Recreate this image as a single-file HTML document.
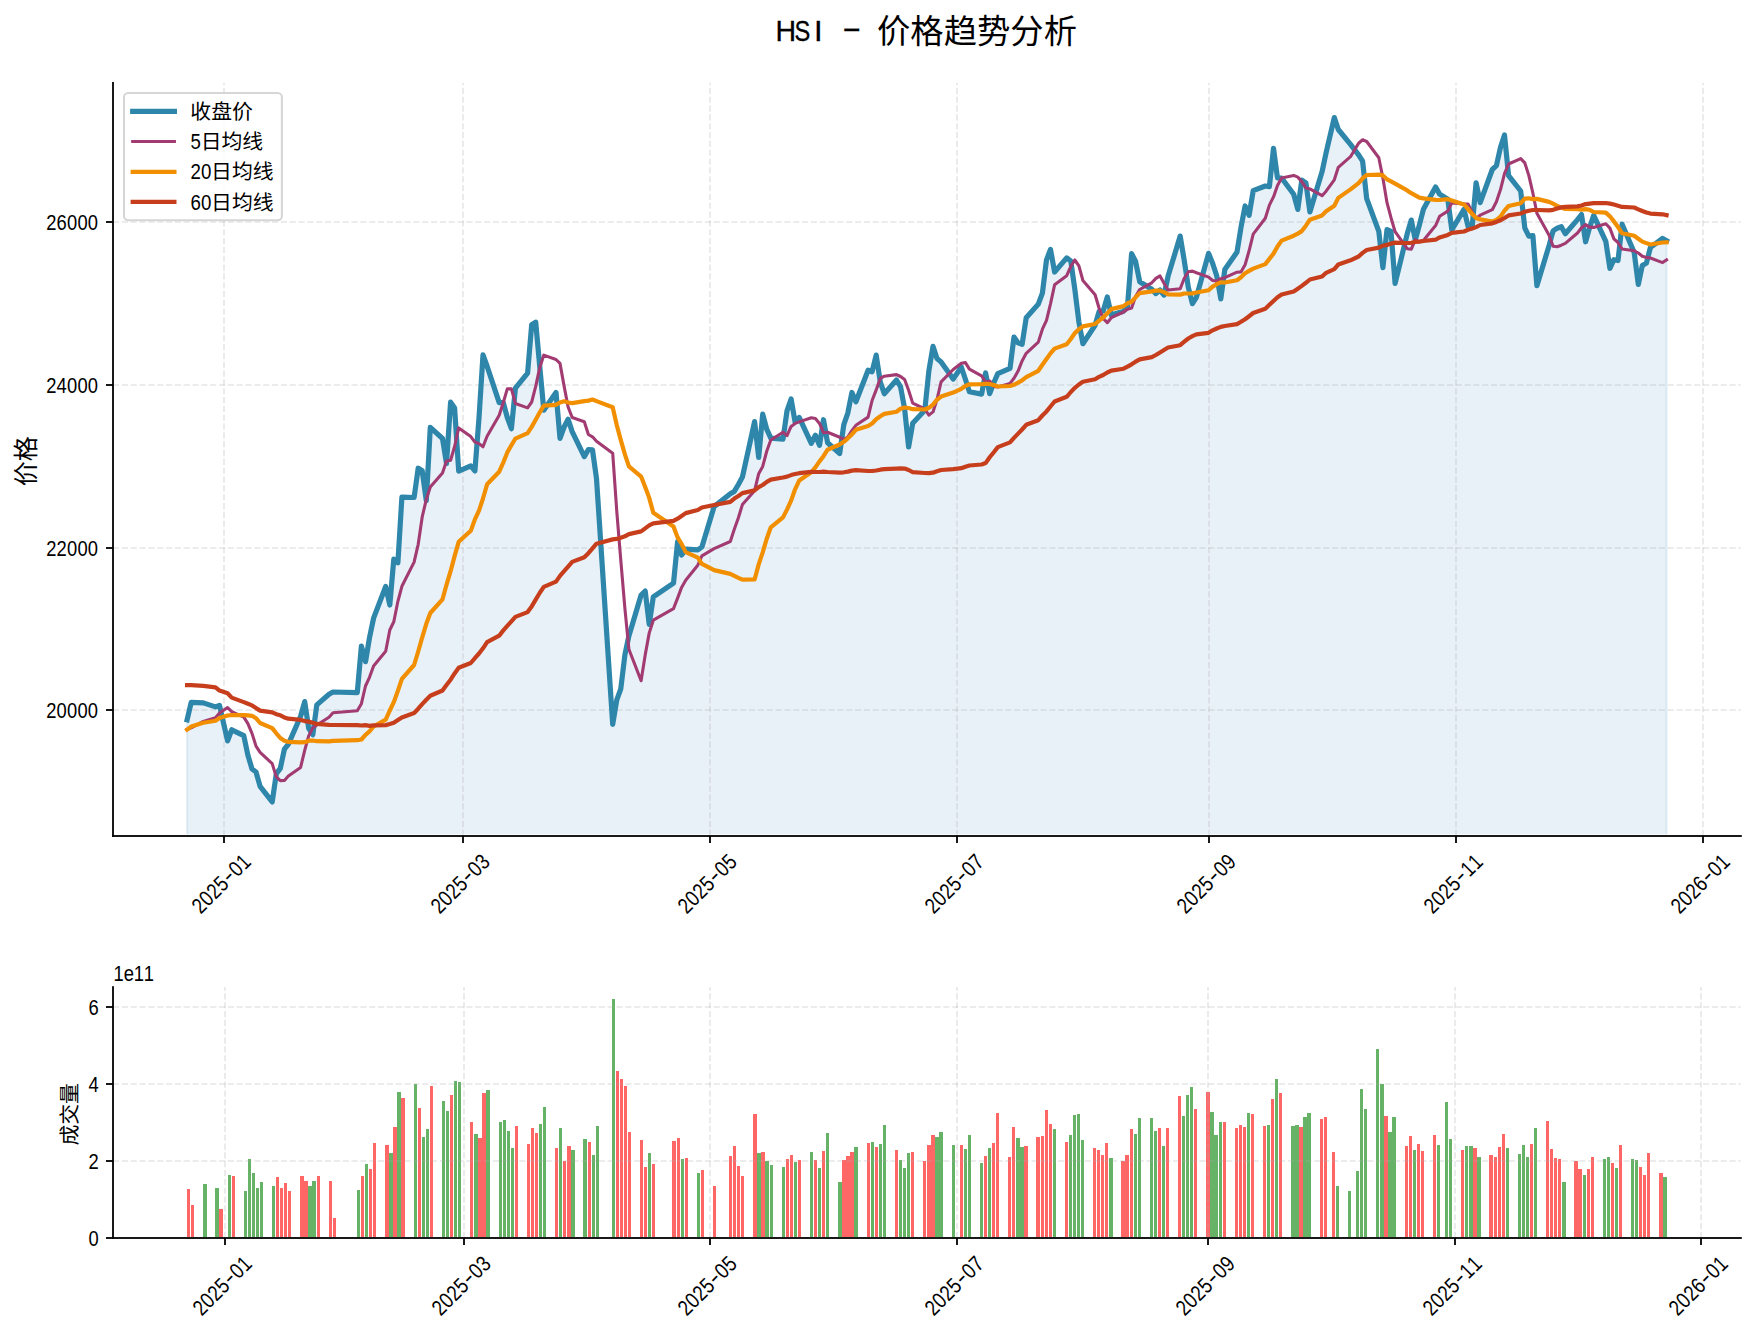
<!DOCTYPE html><html><head><meta charset="utf-8"><title>HSI - 价格趋势分析</title>
<style>html,body{margin:0;padding:0;background:#fff}svg{display:block}text{font-family:"Liberation Sans","Noto Sans CJK SC",sans-serif;fill:#000}.cj{font-family:"Noto Sans CJK SC","Liberation Sans",sans-serif}</style></head><body>
<svg width="1755" height="1332" viewBox="0 0 1755 1332">
<rect width="1755" height="1332" fill="#fff"/>
<clipPath id="c1"><rect x="113" y="82.8" width="1628" height="751.4"/></clipPath>
<polygon clip-path="url(#c1)" points="187.1,850 187.1,719.8 191.2,702.3 203.3,702.9 215.5,706.9 219.5,705.4 227.6,740.9 231.7,729.8 243.8,735.7 247.9,755.2 252,768.9 256,772 260.1,786.4 272.2,801.9 276.3,773.8 280.3,768.4 284.4,749.1 288.4,744.1 300.6,716.3 304.7,701.6 308.7,728.3 312.8,734.7 316.8,704.9 329,694.2 333,692 357.3,692.6 361.4,646.1 365.5,661.7 369.5,637.8 373.6,618.1 385.7,586.5 389.8,605 393.8,559.2 397.9,562.7 401.9,497.2 414.1,497.5 418.2,468.2 422.2,470.8 426.3,500.7 430.3,427.4 442.5,438.5 446.5,463.5 450.6,402.2 454.6,407.9 458.7,471.1 470.8,465.8 474.9,471 479,418 483,354.9 487.1,366.2 499.2,402.6 503.3,402.7 507.3,417.5 511.4,428.7 515.4,388.2 527.6,373.1 531.7,324.7 535.7,322.2 539.8,367.1 543.8,410.2 556,392.6 560,438.3 564.1,427 568.1,419.2 572.2,431.6 584.3,456.6 588.4,449.5 592.5,449.8 596.5,478.5 612.7,724.3 616.8,699.9 620.8,688.8 624.9,654.8 628.9,635.9 641.1,595 645.2,591 649.2,624.3 653.3,596.8 673.5,583.2 677.6,541.7 681.6,555 685.7,549.2 697.8,549.9 701.9,547 714.1,506.6 730.3,493.7 734.3,491.4 738.4,484.5 742.4,477.1 754.6,421.6 758.7,457.5 762.7,414.2 766.8,429.4 770.8,438.2 783,439.2 787,410.9 791.1,399 795.1,422 799.2,417.4 811.3,443.3 815.4,435.2 819.5,445.3 823.5,419.7 827.6,442.7 839.7,453.5 843.8,424.6 847.8,413.1 851.9,392.5 855.9,401.8 868.1,370.2 872.1,371.7 876.2,355.1 880.3,382.1 884.3,393.7 896.5,380 900.5,386.6 904.6,408.5 908.6,447 912.7,423.2 924.8,410.3 928.9,370.6 933,346.4 937,358.5 941.1,361.9 953.2,379.1 961.3,367 965.4,379.3 969.4,391.8 981.6,394.1 985.6,372.9 989.7,393.7 993.8,382.7 997.8,373.6 1010,368.4 1014,337 1018.1,342.9 1022.1,344.4 1026.2,317.8 1038.3,304.1 1042.4,293.1 1046.5,259.9 1050.5,249.4 1054.6,272 1066.7,257.9 1070.8,261 1074.8,289.2 1078.9,322.1 1082.9,343.7 1095.1,325.3 1099.1,311.6 1103.2,310.9 1107.3,297 1111.3,315.1 1123.5,311.2 1127.5,306.1 1131.6,253.7 1135.6,261.4 1139.7,281.7 1151.8,289.3 1155.9,293.6 1160,290.1 1164,295.1 1168.1,276.1 1180.2,236.1 1184.3,260.9 1188.3,287.2 1192.4,303.7 1196.4,297.3 1208.6,253.4 1212.6,263.2 1216.7,275.7 1220.8,298.9 1224.8,269.6 1237,252.1 1241,227.3 1245.1,206 1249.1,215.3 1253.2,190.7 1265.3,186 1269.4,186.6 1273.5,148.4 1277.5,178 1281.6,178 1293.7,194.3 1297.8,209.4 1301.8,180.1 1305.9,182.9 1309.9,211.9 1322.1,171.6 1326.1,152.7 1334.3,117.6 1338.3,129.5 1350.5,144.4 1358.6,154.8 1362.6,161.1 1366.7,198.7 1378.8,231.3 1382.9,267.7 1387,229.6 1391,231.4 1395.1,283.5 1407.2,233.8 1411.3,220.1 1415.3,240.1 1419.4,224.9 1423.4,209.3 1435.6,187 1439.6,194.1 1447.8,199.3 1451.8,229.9 1464,209.4 1468,226.2 1472.1,227.6 1476.1,182.8 1480.2,202.6 1492.3,169.5 1496.4,165.7 1500.5,147.3 1504.5,135 1508.6,175.7 1520.7,191 1524.8,228 1528.8,236.1 1532.9,235.7 1536.9,285.7 1549.1,245.4 1553.1,230.9 1557.2,228.2 1561.3,226.7 1565.3,233.8 1577.5,219.6 1581.5,214.6 1585.6,241.8 1589.6,227.5 1593.7,215.4 1605.8,241.4 1609.9,268.3 1613.9,259.7 1618,260.5 1622.1,224.2 1634.2,252.5 1638.3,284.5 1642.3,265.5 1646.4,263.1 1650.4,247.5 1662.6,238.4 1666.6,240.7 1666.6,850" fill="#1f77b4" fill-opacity="0.1" stroke="#1f77b4" stroke-opacity="0.1" stroke-width="2.08" stroke-linejoin="round"/>
<line x1="224" x2="224" y1="836" y2="82.8" stroke="#b0b0b0" stroke-opacity="0.3" stroke-width="1.67" stroke-dasharray="6.1667 2.6667"/>
<line x1="463" x2="463" y1="836" y2="82.8" stroke="#b0b0b0" stroke-opacity="0.3" stroke-width="1.67" stroke-dasharray="6.1667 2.6667"/>
<line x1="710" x2="710" y1="836" y2="82.8" stroke="#b0b0b0" stroke-opacity="0.3" stroke-width="1.67" stroke-dasharray="6.1667 2.6667"/>
<line x1="957" x2="957" y1="836" y2="82.8" stroke="#b0b0b0" stroke-opacity="0.3" stroke-width="1.67" stroke-dasharray="6.1667 2.6667"/>
<line x1="1209" x2="1209" y1="836" y2="82.8" stroke="#b0b0b0" stroke-opacity="0.3" stroke-width="1.67" stroke-dasharray="6.1667 2.6667"/>
<line x1="1456" x2="1456" y1="836" y2="82.8" stroke="#b0b0b0" stroke-opacity="0.3" stroke-width="1.67" stroke-dasharray="6.1667 2.6667"/>
<line x1="1703" x2="1703" y1="836" y2="82.8" stroke="#b0b0b0" stroke-opacity="0.3" stroke-width="1.67" stroke-dasharray="6.1667 2.6667"/>
<line x1="113" x2="1740.8" y1="710" y2="710" stroke="#b0b0b0" stroke-opacity="0.3" stroke-width="1.67" stroke-dasharray="6.1667 2.6667"/>
<line x1="113" x2="1740.8" y1="548" y2="548" stroke="#b0b0b0" stroke-opacity="0.3" stroke-width="1.67" stroke-dasharray="6.1667 2.6667"/>
<line x1="113" x2="1740.8" y1="385" y2="385" stroke="#b0b0b0" stroke-opacity="0.3" stroke-width="1.67" stroke-dasharray="6.1667 2.6667"/>
<line x1="113" x2="1740.8" y1="222" y2="222" stroke="#b0b0b0" stroke-opacity="0.3" stroke-width="1.67" stroke-dasharray="6.1667 2.6667"/>
<polyline points="187.1,719.8 191.2,702.3 203.3,702.9 215.5,706.9 219.5,705.4 227.6,740.9 231.7,729.8 243.8,735.7 247.9,755.2 252,768.9 256,772 260.1,786.4 272.2,801.9 276.3,773.8 280.3,768.4 284.4,749.1 288.4,744.1 300.6,716.3 304.7,701.6 308.7,728.3 312.8,734.7 316.8,704.9 329,694.2 333,692 357.3,692.6 361.4,646.1 365.5,661.7 369.5,637.8 373.6,618.1 385.7,586.5 389.8,605 393.8,559.2 397.9,562.7 401.9,497.2 414.1,497.5 418.2,468.2 422.2,470.8 426.3,500.7 430.3,427.4 442.5,438.5 446.5,463.5 450.6,402.2 454.6,407.9 458.7,471.1 470.8,465.8 474.9,471 479,418 483,354.9 487.1,366.2 499.2,402.6 503.3,402.7 507.3,417.5 511.4,428.7 515.4,388.2 527.6,373.1 531.7,324.7 535.7,322.2 539.8,367.1 543.8,410.2 556,392.6 560,438.3 564.1,427 568.1,419.2 572.2,431.6 584.3,456.6 588.4,449.5 592.5,449.8 596.5,478.5 612.7,724.3 616.8,699.9 620.8,688.8 624.9,654.8 628.9,635.9 641.1,595 645.2,591 649.2,624.3 653.3,596.8 673.5,583.2 677.6,541.7 681.6,555 685.7,549.2 697.8,549.9 701.9,547 714.1,506.6 730.3,493.7 734.3,491.4 738.4,484.5 742.4,477.1 754.6,421.6 758.7,457.5 762.7,414.2 766.8,429.4 770.8,438.2 783,439.2 787,410.9 791.1,399 795.1,422 799.2,417.4 811.3,443.3 815.4,435.2 819.5,445.3 823.5,419.7 827.6,442.7 839.7,453.5 843.8,424.6 847.8,413.1 851.9,392.5 855.9,401.8 868.1,370.2 872.1,371.7 876.2,355.1 880.3,382.1 884.3,393.7 896.5,380 900.5,386.6 904.6,408.5 908.6,447 912.7,423.2 924.8,410.3 928.9,370.6 933,346.4 937,358.5 941.1,361.9 953.2,379.1 961.3,367 965.4,379.3 969.4,391.8 981.6,394.1 985.6,372.9 989.7,393.7 993.8,382.7 997.8,373.6 1010,368.4 1014,337 1018.1,342.9 1022.1,344.4 1026.2,317.8 1038.3,304.1 1042.4,293.1 1046.5,259.9 1050.5,249.4 1054.6,272 1066.7,257.9 1070.8,261 1074.8,289.2 1078.9,322.1 1082.9,343.7 1095.1,325.3 1099.1,311.6 1103.2,310.9 1107.3,297 1111.3,315.1 1123.5,311.2 1127.5,306.1 1131.6,253.7 1135.6,261.4 1139.7,281.7 1151.8,289.3 1155.9,293.6 1160,290.1 1164,295.1 1168.1,276.1 1180.2,236.1 1184.3,260.9 1188.3,287.2 1192.4,303.7 1196.4,297.3 1208.6,253.4 1212.6,263.2 1216.7,275.7 1220.8,298.9 1224.8,269.6 1237,252.1 1241,227.3 1245.1,206 1249.1,215.3 1253.2,190.7 1265.3,186 1269.4,186.6 1273.5,148.4 1277.5,178 1281.6,178 1293.7,194.3 1297.8,209.4 1301.8,180.1 1305.9,182.9 1309.9,211.9 1322.1,171.6 1326.1,152.7 1334.3,117.6 1338.3,129.5 1350.5,144.4 1358.6,154.8 1362.6,161.1 1366.7,198.7 1378.8,231.3 1382.9,267.7 1387,229.6 1391,231.4 1395.1,283.5 1407.2,233.8 1411.3,220.1 1415.3,240.1 1419.4,224.9 1423.4,209.3 1435.6,187 1439.6,194.1 1447.8,199.3 1451.8,229.9 1464,209.4 1468,226.2 1472.1,227.6 1476.1,182.8 1480.2,202.6 1492.3,169.5 1496.4,165.7 1500.5,147.3 1504.5,135 1508.6,175.7 1520.7,191 1524.8,228 1528.8,236.1 1532.9,235.7 1536.9,285.7 1549.1,245.4 1553.1,230.9 1557.2,228.2 1561.3,226.7 1565.3,233.8 1577.5,219.6 1581.5,214.6 1585.6,241.8 1589.6,227.5 1593.7,215.4 1605.8,241.4 1609.9,268.3 1613.9,259.7 1618,260.5 1622.1,224.2 1634.2,252.5 1638.3,284.5 1642.3,265.5 1646.4,263.1 1650.4,247.5 1662.6,238.4 1666.6,240.7" fill="none" stroke="#2E86AB" stroke-width="5.2" stroke-linejoin="round" stroke-linecap="square"/>
<polyline points="187.1,729.3 191.2,727.8 203.3,721.4 215.5,717.7 219.5,713 227.6,707.5 231.7,711.7 243.8,717.2 247.9,723.7 252,733.4 256,746.1 260.1,752.3 272.2,763.6 276.3,776.9 280.3,780.6 284.4,780.5 288.4,775.9 300.6,767.4 304.7,750.3 308.7,735.9 312.8,727.9 316.8,725 329,717.2 333,712.7 357.3,710.8 361.4,703.7 365.5,686 369.5,677.3 373.6,666 385.7,651.3 389.8,630 393.8,621.8 397.9,601.3 401.9,586.3 414.1,562.1 418.2,544.3 422.2,517 426.3,499.3 430.3,486.9 442.5,472.9 446.5,461.1 450.6,460.2 454.6,446.5 458.7,427.9 470.8,436.6 474.9,442.1 479,443.6 483,446.8 487.1,436.2 499.2,415.2 503.3,402.5 507.3,388.9 511.4,388.8 515.4,403.5 527.6,407.9 531.7,402 535.7,386.4 539.8,367.4 543.8,355.1 556,359.5 560,363.4 564.1,386.1 568.1,407 572.2,417.5 584.3,421.8 588.4,434.5 592.5,436.8 596.5,441.3 612.7,453.2 616.8,511.7 620.8,560.4 624.9,608.3 628.9,649.3 641.1,680.7 645.2,654.9 649.2,633.1 653.3,620.2 673.5,608.6 677.6,598.1 681.6,587.4 685.7,580.2 697.8,565.2 701.9,555.8 714.1,548.6 730.3,541.5 734.3,529.3 738.4,517.7 742.4,504.6 754.6,490.7 758.7,473.7 762.7,466.4 766.8,451 770.8,440 783,432.2 787,435.7 791.1,426.4 795.1,423.4 799.2,421.9 811.3,417.7 815.4,418.5 819.5,423.4 823.5,432.7 827.6,432.2 839.7,437.3 843.8,439.3 847.8,437.2 851.9,430.7 855.9,425.3 868.1,417.1 872.1,400.5 876.2,389.9 880.3,378.3 884.3,376.2 896.5,374.6 900.5,376.5 904.6,379.5 908.6,390.2 912.7,403.1 924.8,409 928.9,415.1 933,411.9 937,399.5 941.1,381.8 953.2,369.5 961.3,363.3 965.4,362.6 969.4,369.1 981.6,375.8 985.6,382.2 989.7,381 993.8,386.4 997.8,387 1010,383.4 1014,378.3 1018.1,371.1 1022.1,360.9 1026.2,353.3 1038.3,342.1 1042.4,329.2 1046.5,320.4 1050.5,303.8 1054.6,284.8 1066.7,275.7 1070.8,266.5 1074.8,260 1078.9,265.9 1082.9,280.5 1095.1,294.8 1099.1,308.3 1103.2,318.4 1107.3,322.7 1111.3,317.7 1123.5,312 1127.5,309.2 1131.6,308.1 1135.6,296.6 1139.7,289.5 1151.8,282.8 1155.9,278.4 1160,275.9 1164,283.2 1168.1,290 1180.2,288.8 1184.3,278.2 1188.3,271.7 1192.4,271.1 1196.4,272.8 1208.6,277.1 1212.6,280.5 1216.7,281 1220.8,278.7 1224.8,277.7 1237,272.2 1241,271.9 1245.1,264.7 1249.1,250.8 1253.2,234.1 1265.3,218.3 1269.4,205.1 1273.5,196.9 1277.5,185.4 1281.6,178 1293.7,175.4 1297.8,177.1 1301.8,181.6 1305.9,187.9 1309.9,188.9 1322.1,195.7 1326.1,191.2 1334.3,179.8 1338.3,167.3 1350.5,156.7 1358.6,143.2 1362.6,139.8 1366.7,141.5 1378.8,157.7 1382.9,178.1 1387,202.7 1391,217.7 1395.1,231.7 1407.2,248.7 1411.3,249.2 1415.3,239.7 1419.4,241.8 1423.4,240.5 1435.6,225.6 1439.6,216.3 1447.8,211.1 1451.8,202.9 1464,203.9 1468,204 1472.1,211.8 1476.1,218.5 1480.2,215.2 1492.3,209.7 1496.4,201.7 1500.5,189.6 1504.5,173.6 1508.6,164 1520.7,158.6 1524.8,162.9 1528.8,175.4 1532.9,193.2 1536.9,213.3 1549.1,235.3 1553.1,246.2 1557.2,246.7 1561.3,245.2 1565.3,243.4 1577.5,233 1581.5,227.8 1585.6,224.6 1589.6,227.3 1593.7,227.4 1605.8,223.8 1609.9,228.1 1613.9,238.9 1618,242.5 1622.1,249 1634.2,250.8 1638.3,253 1642.3,256.3 1646.4,257.4 1650.4,258 1662.6,262.6 1666.6,259.8" fill="none" stroke="#A23B72" stroke-width="3.1" stroke-linejoin="round" stroke-linecap="square"/>
<polyline points="187.1,729.6 191.2,726.6 203.3,722.8 215.5,720.8 219.5,718.1 227.6,715.5 231.7,715.2 243.8,715.1 247.9,715.4 252,715.8 256,718.2 260.1,723 272.2,728.1 276.3,733.3 280.3,738 284.4,740.8 288.4,741.9 300.6,742.4 304.7,742.2 308.7,740.7 312.8,740.5 316.8,741.2 329,741.4 333,740.9 357.3,740.2 361.4,739.5 365.5,734.8 369.5,731.4 373.6,726.5 385.7,719.6 389.8,710.5 393.8,702.2 397.9,690.8 401.9,678.9 414.1,665 418.2,651.5 422.2,637.4 426.3,623.8 430.3,613 442.5,599.3 446.5,584.8 450.6,571.2 454.6,556.1 458.7,541.8 470.8,530.7 474.9,519.4 479,510.6 483,498.5 487.1,484.3 499.2,471.7 503.3,462.5 507.3,452.4 511.4,445.3 515.4,438.6 527.6,433.2 531.7,426.9 535.7,419.8 539.8,412.3 543.8,405.7 556,404.8 560,402.5 564.1,401.3 568.1,402.5 572.2,403.1 584.3,401.1 588.4,400.6 592.5,399.5 596.5,401.1 612.7,407.3 616.8,425.2 620.8,440.1 624.9,454.4 628.9,466.3 641.1,476.6 645.2,487 649.2,497.9 653.3,512.8 673.5,526.6 677.6,537.4 681.6,544 685.7,552.1 697.8,557.6 701.9,563.8 714.1,570.1 730.3,573.9 734.3,575.8 738.4,577.8 742.4,579.6 754.6,579.5 758.7,564.4 762.7,552.3 766.8,538.5 770.8,527.3 783,517.4 787,509.6 791.1,500.6 795.1,489.3 799.2,480.6 811.3,472.3 815.4,467.4 819.5,461.4 823.5,456.2 827.6,449.7 839.7,444.5 843.8,441.8 847.8,438.3 851.9,434.4 855.9,429.8 868.1,426.1 872.1,423.5 876.2,419.2 880.3,416.3 884.3,413.9 896.5,411.7 900.5,408.7 904.6,407.5 908.6,408 912.7,409.2 924.8,409.5 928.9,407.8 933,404.6 937,399.7 941.1,396.6 953.2,392.6 961.3,388.8 965.4,386 969.4,384.3 981.6,384.2 985.6,383.8 989.7,384 993.8,385.1 997.8,386.5 1010,386 1014,384.8 1018.1,382.6 1022.1,380.4 1026.2,377.2 1038.3,370.8 1042.4,364.8 1046.5,359 1050.5,353.4 1054.6,348.6 1066.7,344.2 1070.8,339 1074.8,333.1 1078.9,329.3 1082.9,326.4 1095.1,324 1099.1,320.6 1103.2,317.5 1107.3,313.3 1111.3,309.1 1123.5,306.1 1127.5,303.3 1131.6,301.7 1135.6,297.3 1139.7,293.1 1151.8,291.3 1155.9,290.6 1160,290.6 1164,292.1 1168.1,294.4 1180.2,294.6 1184.3,293.5 1188.3,293.5 1192.4,293.4 1196.4,292.5 1208.6,290.2 1212.6,286.6 1216.7,284.2 1220.8,282.4 1224.8,282.5 1237,280.2 1241,277.3 1245.1,273.3 1249.1,270.9 1253.2,268.6 1265.3,264.1 1269.4,258.9 1273.5,253.6 1277.5,246.5 1281.6,240.6 1293.7,235.7 1297.8,233.6 1301.8,231.1 1305.9,225.7 1309.9,219.7 1322.1,215.4 1326.1,211.3 1334.3,205.8 1338.3,197.9 1350.5,189.4 1358.6,183.1 1362.6,178.3 1366.7,175 1378.8,174.6 1382.9,175.4 1387,179.3 1391,181.4 1395.1,183.7 1407.2,190.4 1411.3,193.2 1415.3,195.3 1419.4,197.6 1423.4,198.4 1435.6,199.8 1439.6,200 1447.8,199.2 1451.8,200.5 1464,204.4 1468,209 1472.1,213.8 1476.1,218 1480.2,219.4 1492.3,221.5 1496.4,220 1500.5,216.7 1504.5,210.7 1508.6,206 1520.7,203.2 1524.8,198.6 1528.8,198.3 1532.9,199.1 1536.9,198.9 1549.1,201.9 1553.1,203.7 1557.2,205.9 1561.3,207.6 1565.3,209 1577.5,209.2 1581.5,209.7 1585.6,209.1 1589.6,209.8 1593.7,212 1605.8,212.7 1609.9,216.3 1613.9,221.4 1618,227 1622.1,233.3 1634.2,235.7 1638.3,238.8 1642.3,241.6 1646.4,243.1 1650.4,244.5 1662.6,242.5 1666.6,242.2" fill="none" stroke="#F18F01" stroke-width="4.2" stroke-linejoin="round" stroke-linecap="square"/>
<polyline points="187.1,685.1 191.2,685.2 203.3,685.9 215.5,687.3 219.5,690.6 227.6,693.3 231.7,697.6 243.8,702.1 247.9,703.8 252,705.4 256,708.1 260.1,710.6 272.2,712.3 276.3,714.2 280.3,715.3 284.4,717.4 288.4,718.7 300.6,719.9 304.7,721.1 308.7,721.6 312.8,722.7 316.8,723.9 329,724.8 333,725 357.3,725.1 361.4,725.5 365.5,725.2 369.5,725.8 373.6,725.3 385.7,725.1 389.8,724 393.8,722.8 397.9,720.1 401.9,717.4 414.1,713.1 418.2,708.7 422.2,704.1 426.3,699.7 430.3,695.8 442.5,690.5 446.5,685 450.6,679.7 454.6,673.4 458.7,667.8 470.8,663 474.9,658.1 479,653.5 483,648.3 487.1,642.1 499.2,635.7 503.3,630.4 507.3,625.9 511.4,621.4 515.4,616.9 527.6,612.1 531.7,606.4 535.7,599.7 539.8,592.8 543.8,586.9 556,581.6 560,575.9 564.1,571.2 568.1,566.7 572.2,561.9 584.3,557.3 588.4,553.2 592.5,548.3 596.5,543.7 612.7,539.4 616.8,538.9 620.8,537.7 624.9,536.3 628.9,534.1 641.1,531.4 645.2,528.4 649.2,525.4 653.3,523.4 673.5,520.9 677.6,518.7 681.6,516 685.7,513.1 697.8,510 701.9,507.5 714.1,505 730.3,501.9 734.3,498.6 738.4,496 742.4,493.1 754.6,490.4 758.7,487.1 762.7,485 766.8,481.8 770.8,479.6 783,477.5 787,476.6 791.1,475.1 795.1,474 799.2,473.2 811.3,471.8 815.4,472 819.5,472 823.5,471.7 827.6,472 839.7,472.6 843.8,472.3 847.8,471.6 851.9,470.6 855.9,470.2 868.1,471 872.1,471 876.2,470.5 880.3,469.7 884.3,469.1 896.5,468.6 900.5,468.4 904.6,468.6 908.6,470 912.7,472.1 924.8,473 928.9,473.1 933,472.7 937,471.2 941.1,470 953.2,469.1 961.3,468.2 965.4,466.7 969.4,465.5 981.6,464.5 985.6,463.1 989.7,457.3 993.8,452.2 997.8,447.1 1010,442.4 1014,437.9 1018.1,433.6 1022.1,429.5 1026.2,424.8 1038.3,420.2 1042.4,415.5 1046.5,411.4 1050.5,406.5 1054.6,401.5 1066.7,396.8 1070.8,392 1074.8,387.9 1078.9,384.5 1082.9,381.7 1095.1,379.3 1099.1,376.8 1103.2,375 1107.3,372.5 1111.3,370.6 1123.5,368.7 1127.5,366.6 1131.6,364.3 1135.6,361.7 1139.7,359.4 1151.8,357.1 1155.9,355 1160,352.5 1164,350 1168.1,347.5 1180.2,345.2 1184.3,341.7 1188.3,338.5 1192.4,336.2 1196.4,334.4 1208.6,332.8 1212.6,330.3 1216.7,328.5 1220.8,326.9 1224.8,326 1237,324.1 1241,321.8 1245.1,319.2 1249.1,316.2 1253.2,313 1265.3,308.7 1269.4,304.8 1273.5,301 1277.5,297.3 1281.6,294.5 1293.7,291.5 1297.8,288.7 1301.8,285.9 1305.9,282.8 1309.9,279.5 1322.1,276.5 1326.1,272.8 1334.3,269.1 1338.3,264.5 1350.5,260.3 1358.6,256.5 1362.6,252.9 1366.7,250 1378.8,247.6 1382.9,245.7 1387,244.9 1391,243.6 1395.1,242.6 1407.2,243 1411.3,242.8 1415.3,241.9 1419.4,241.6 1423.4,241 1435.6,239.7 1439.6,237.4 1447.8,234.9 1451.8,232.8 1464,231.5 1468,229.8 1472.1,228.6 1476.1,227.1 1480.2,225 1492.3,223.3 1496.4,221.9 1500.5,220.3 1504.5,218 1508.6,215.4 1520.7,213.5 1524.8,211.8 1528.8,210.7 1532.9,210 1536.9,210 1549.1,210.4 1553.1,209.8 1557.2,208.5 1561.3,207.4 1565.3,206.9 1577.5,206.4 1581.5,205.5 1585.6,204.1 1589.6,203.6 1593.7,203.2 1605.8,203 1609.9,203.6 1613.9,204.5 1618,205.7 1622.1,206.9 1634.2,207.5 1638.3,209.3 1642.3,211 1646.4,212.5 1650.4,213.6 1662.6,214.3 1666.6,215.2" fill="none" stroke="#C73E1D" stroke-width="4.2" stroke-linejoin="round" stroke-linecap="square"/>
<rect x="112.1" y="82" width="1.8" height="754.9" fill="#000"/>
<rect x="112.2" y="835.1" width="1629.6" height="1.8" fill="#000"/>
<rect x="223.1" y="836" width="1.8" height="7" fill="#000"/>
<g transform="translate(221.4,883.8) rotate(-45)"><text transform="translate(-36.5,7.2) scale(0.835,1)" x="0.12 12.59 25.07 37.54 50.77 62.49 74.96" y="0.00 0.00 0.00 0.00 -1.30 0.00 0.00" font-size="22" >2025<tspan textLength="10.7" lengthAdjust="spacingAndGlyphs">-</tspan>01</text></g>
<rect x="462.1" y="836" width="1.8" height="7" fill="#000"/>
<g transform="translate(460.4,883.8) rotate(-45)"><text transform="translate(-36.5,7.2) scale(0.835,1)" x="0.12 12.59 25.07 37.54 50.77 62.49 74.96" y="0.00 0.00 0.00 0.00 -1.30 0.00 0.00" font-size="22" >2025<tspan textLength="10.7" lengthAdjust="spacingAndGlyphs">-</tspan>03</text></g>
<rect x="709.1" y="836" width="1.8" height="7" fill="#000"/>
<g transform="translate(707.4,883.8) rotate(-45)"><text transform="translate(-36.5,7.2) scale(0.835,1)" x="0.12 12.59 25.07 37.54 50.77 62.49 74.96" y="0.00 0.00 0.00 0.00 -1.30 0.00 0.00" font-size="22" >2025<tspan textLength="10.7" lengthAdjust="spacingAndGlyphs">-</tspan>05</text></g>
<rect x="956.1" y="836" width="1.8" height="7" fill="#000"/>
<g transform="translate(954.4,883.8) rotate(-45)"><text transform="translate(-36.5,7.2) scale(0.835,1)" x="0.12 12.59 25.07 37.54 50.77 62.49 74.96" y="0.00 0.00 0.00 0.00 -1.30 0.00 0.00" font-size="22" >2025<tspan textLength="10.7" lengthAdjust="spacingAndGlyphs">-</tspan>07</text></g>
<rect x="1208.1" y="836" width="1.8" height="7" fill="#000"/>
<g transform="translate(1206.4,883.8) rotate(-45)"><text transform="translate(-36.5,7.2) scale(0.835,1)" x="0.12 12.59 25.07 37.54 50.77 62.49 74.96" y="0.00 0.00 0.00 0.00 -1.30 0.00 0.00" font-size="22" >2025<tspan textLength="10.7" lengthAdjust="spacingAndGlyphs">-</tspan>09</text></g>
<rect x="1455.1" y="836" width="1.8" height="7" fill="#000"/>
<g transform="translate(1453.4,883.8) rotate(-45)"><text transform="translate(-36.5,7.2) scale(0.835,1)" x="0.12 12.59 25.07 37.54 50.77 62.49 74.96" y="0.00 0.00 0.00 0.00 -1.30 0.00 0.00" font-size="22" >2025<tspan textLength="10.7" lengthAdjust="spacingAndGlyphs">-</tspan>11</text></g>
<rect x="1702.1" y="836" width="1.8" height="7" fill="#000"/>
<g transform="translate(1700.4,883.8) rotate(-45)"><text transform="translate(-36.5,7.2) scale(0.835,1)" x="0.12 12.59 25.07 37.54 50.77 62.49 74.96" y="0.00 0.00 0.00 0.00 -1.30 0.00 0.00" font-size="22" >2026<tspan textLength="10.7" lengthAdjust="spacingAndGlyphs">-</tspan>01</text></g>
<rect x="106" y="709.1" width="7" height="1.8" fill="#000"/>
<text transform="translate(46.1,717.8) scale(0.835,1)" x="0.12 12.59 25.07 37.54 50.01" y="0.00 0.00 0.00 0.00 0.00" font-size="22" >20000</text>
<rect x="106" y="547.1" width="7" height="1.8" fill="#000"/>
<text transform="translate(46.1,555.8) scale(0.835,1)" x="0.12 12.59 25.07 37.54 50.01" y="0.00 0.00 0.00 0.00 0.00" font-size="22" >22000</text>
<rect x="106" y="384.1" width="7" height="1.8" fill="#000"/>
<text transform="translate(46.1,392.8) scale(0.835,1)" x="0.12 12.59 25.07 37.54 50.01" y="0.00 0.00 0.00 0.00 0.00" font-size="22" >24000</text>
<rect x="106" y="221.1" width="7" height="1.8" fill="#000"/>
<text transform="translate(46.1,229.8) scale(0.835,1)" x="0.12 12.59 25.07 37.54 50.01" y="0.00 0.00 0.00 0.00 0.00" font-size="22" >26000</text>
<text class="cj" transform="translate(25.8,461.3) rotate(-90)" font-size="25" text-anchor="middle" y="9">价格</text>
<text font-size="29" stroke="#000" stroke-width="0.3"><tspan x="775.4" y="40.9" textLength="20.6" lengthAdjust="spacingAndGlyphs">H</tspan><tspan x="794.6" y="40.9" textLength="15.8" lengthAdjust="spacingAndGlyphs">S</tspan><tspan x="814" y="40.9" textLength="8.6" lengthAdjust="spacingAndGlyphs">I</tspan> <tspan x="842" y="37.6" textLength="19.5" lengthAdjust="spacingAndGlyphs">-</tspan> <tspan class="cj" x="877" y="42.5" font-size="33.33" textLength="200" stroke="none">价格趋势分析</tspan></text>
<rect x="124" y="93" width="157.9" height="127.2" rx="4.2" ry="4.2" fill="#fff" fill-opacity="0.8" stroke="#ccc" stroke-opacity="0.8" stroke-width="2.08"/>
<line x1="132.7" x2="174.4" y1="111.4" y2="111.4" stroke="#2E86AB" stroke-width="5.2" stroke-linecap="square"/>
<text y="119" font-size="20.83"><tspan class="cj" x="190.3" y="119" textLength="62.5">收盘价</tspan></text>
<line x1="132.7" x2="174.4" y1="141.5" y2="141.5" stroke="#A23B72" stroke-width="3.1" stroke-linecap="square"/>
<text y="149.1" font-size="20.83"><tspan x="190.5" y="149.1" font-size="22" textLength="10.4" lengthAdjust="spacingAndGlyphs">5</tspan><tspan class="cj" x="200.7" y="149.1" textLength="62.5">日均线</tspan></text>
<line x1="132.7" x2="174.4" y1="171.8" y2="171.8" stroke="#F18F01" stroke-width="4.2" stroke-linecap="square"/>
<text y="179.4" font-size="20.83"><tspan x="190.5" y="179.4" font-size="22" textLength="20.8" lengthAdjust="spacingAndGlyphs">20</tspan><tspan class="cj" x="211.1" y="179.4" textLength="62.5">日均线</tspan></text>
<line x1="132.7" x2="174.4" y1="201.9" y2="201.9" stroke="#C73E1D" stroke-width="4.2" stroke-linecap="square"/>
<text y="209.5" font-size="20.83"><tspan x="190.5" y="209.5" font-size="22" textLength="20.8" lengthAdjust="spacingAndGlyphs">60</tspan><tspan class="cj" x="211.1" y="209.5" textLength="62.5">日均线</tspan></text>
<g shape-rendering="crispEdges">
<rect x="187" y="1189" width="3" height="48" fill="#FF6666"/>
<rect x="191" y="1205" width="3" height="32" fill="#FF6666"/>
<rect x="203" y="1184" width="4" height="53" fill="#66B266"/>
<rect x="215" y="1188" width="4" height="49" fill="#66B266"/>
<rect x="219" y="1209" width="4" height="28" fill="#FF6666"/>
<rect x="228" y="1175" width="3" height="62" fill="#66B266"/>
<rect x="232" y="1176" width="3" height="61" fill="#FF6666"/>
<rect x="244" y="1191" width="3" height="46" fill="#66B266"/>
<rect x="248" y="1159" width="3" height="78" fill="#66B266"/>
<rect x="252" y="1173" width="3" height="64" fill="#66B266"/>
<rect x="256" y="1188" width="3" height="49" fill="#66B266"/>
<rect x="260" y="1182" width="3" height="55" fill="#66B266"/>
<rect x="272" y="1186" width="3" height="51" fill="#66B266"/>
<rect x="276" y="1177" width="3" height="60" fill="#FF6666"/>
<rect x="280" y="1188" width="3" height="49" fill="#FF6666"/>
<rect x="284" y="1183" width="3" height="54" fill="#FF6666"/>
<rect x="288" y="1191" width="3" height="46" fill="#FF6666"/>
<rect x="300" y="1176" width="4" height="61" fill="#FF6666"/>
<rect x="304" y="1181" width="4" height="56" fill="#FF6666"/>
<rect x="308" y="1186" width="4" height="51" fill="#66B266"/>
<rect x="312" y="1181" width="4" height="56" fill="#66B266"/>
<rect x="317" y="1176" width="3" height="61" fill="#FF6666"/>
<rect x="329" y="1181" width="3" height="56" fill="#FF6666"/>
<rect x="333" y="1218" width="3" height="19" fill="#FF6666"/>
<rect x="357" y="1190" width="3" height="47" fill="#66B266"/>
<rect x="361" y="1176" width="3" height="61" fill="#FF6666"/>
<rect x="365" y="1164" width="3" height="73" fill="#66B266"/>
<rect x="369" y="1169" width="3" height="68" fill="#FF6666"/>
<rect x="373" y="1143" width="3" height="94" fill="#FF6666"/>
<rect x="385" y="1145" width="4" height="92" fill="#FF6666"/>
<rect x="389" y="1153" width="4" height="84" fill="#66B266"/>
<rect x="393" y="1127" width="4" height="110" fill="#FF6666"/>
<rect x="397" y="1092" width="4" height="145" fill="#66B266"/>
<rect x="401" y="1098" width="4" height="139" fill="#FF6666"/>
<rect x="414" y="1084" width="3" height="153" fill="#66B266"/>
<rect x="418" y="1108" width="3" height="129" fill="#FF6666"/>
<rect x="422" y="1137" width="3" height="100" fill="#66B266"/>
<rect x="426" y="1129" width="3" height="108" fill="#66B266"/>
<rect x="430" y="1086" width="3" height="151" fill="#FF6666"/>
<rect x="442" y="1101" width="3" height="136" fill="#66B266"/>
<rect x="446" y="1111" width="3" height="126" fill="#66B266"/>
<rect x="450" y="1095" width="3" height="142" fill="#FF6666"/>
<rect x="454" y="1081" width="3" height="156" fill="#66B266"/>
<rect x="458" y="1082" width="3" height="155" fill="#66B266"/>
<rect x="470" y="1122" width="3" height="115" fill="#FF6666"/>
<rect x="474" y="1134" width="4" height="103" fill="#66B266"/>
<rect x="478" y="1138" width="4" height="99" fill="#FF6666"/>
<rect x="482" y="1093" width="4" height="144" fill="#FF6666"/>
<rect x="486" y="1090" width="4" height="147" fill="#66B266"/>
<rect x="499" y="1122" width="3" height="115" fill="#66B266"/>
<rect x="503" y="1120" width="3" height="117" fill="#66B266"/>
<rect x="507" y="1131" width="3" height="106" fill="#66B266"/>
<rect x="511" y="1148" width="3" height="89" fill="#66B266"/>
<rect x="515" y="1126" width="3" height="111" fill="#FF6666"/>
<rect x="527" y="1144" width="3" height="93" fill="#FF6666"/>
<rect x="531" y="1128" width="3" height="109" fill="#FF6666"/>
<rect x="535" y="1133" width="3" height="104" fill="#FF6666"/>
<rect x="539" y="1124" width="3" height="113" fill="#66B266"/>
<rect x="543" y="1107" width="3" height="130" fill="#66B266"/>
<rect x="555" y="1148" width="3" height="89" fill="#FF6666"/>
<rect x="559" y="1128" width="3" height="109" fill="#66B266"/>
<rect x="563" y="1161" width="3" height="76" fill="#FF6666"/>
<rect x="567" y="1146" width="4" height="91" fill="#FF6666"/>
<rect x="571" y="1150" width="4" height="87" fill="#66B266"/>
<rect x="583" y="1139" width="4" height="98" fill="#66B266"/>
<rect x="588" y="1142" width="3" height="95" fill="#FF6666"/>
<rect x="592" y="1155" width="3" height="82" fill="#66B266"/>
<rect x="596" y="1126" width="3" height="111" fill="#66B266"/>
<rect x="612" y="999" width="3" height="238" fill="#66B266"/>
<rect x="616" y="1071" width="3" height="166" fill="#FF6666"/>
<rect x="620" y="1079" width="3" height="158" fill="#FF6666"/>
<rect x="624" y="1086" width="3" height="151" fill="#FF6666"/>
<rect x="628" y="1132" width="3" height="105" fill="#FF6666"/>
<rect x="640" y="1140" width="3" height="97" fill="#FF6666"/>
<rect x="644" y="1167" width="3" height="70" fill="#FF6666"/>
<rect x="648" y="1153" width="3" height="84" fill="#66B266"/>
<rect x="652" y="1164" width="3" height="73" fill="#FF6666"/>
<rect x="672" y="1141" width="4" height="96" fill="#FF6666"/>
<rect x="677" y="1138" width="3" height="99" fill="#FF6666"/>
<rect x="681" y="1159" width="3" height="78" fill="#66B266"/>
<rect x="685" y="1158" width="3" height="79" fill="#FF6666"/>
<rect x="697" y="1173" width="3" height="64" fill="#66B266"/>
<rect x="701" y="1170" width="3" height="67" fill="#FF6666"/>
<rect x="713" y="1186" width="3" height="51" fill="#FF6666"/>
<rect x="729" y="1156" width="3" height="81" fill="#FF6666"/>
<rect x="733" y="1146" width="3" height="91" fill="#FF6666"/>
<rect x="737" y="1166" width="3" height="71" fill="#FF6666"/>
<rect x="741" y="1176" width="3" height="61" fill="#FF6666"/>
<rect x="753" y="1114" width="4" height="123" fill="#FF6666"/>
<rect x="757" y="1153" width="4" height="84" fill="#66B266"/>
<rect x="761" y="1152" width="4" height="85" fill="#FF6666"/>
<rect x="765" y="1161" width="4" height="76" fill="#66B266"/>
<rect x="770" y="1165" width="3" height="72" fill="#66B266"/>
<rect x="782" y="1167" width="3" height="70" fill="#66B266"/>
<rect x="786" y="1159" width="3" height="78" fill="#FF6666"/>
<rect x="790" y="1155" width="3" height="82" fill="#FF6666"/>
<rect x="794" y="1162" width="3" height="75" fill="#66B266"/>
<rect x="798" y="1160" width="3" height="77" fill="#FF6666"/>
<rect x="810" y="1152" width="3" height="85" fill="#66B266"/>
<rect x="814" y="1160" width="3" height="77" fill="#FF6666"/>
<rect x="818" y="1168" width="3" height="69" fill="#66B266"/>
<rect x="822" y="1151" width="3" height="86" fill="#FF6666"/>
<rect x="826" y="1133" width="3" height="104" fill="#66B266"/>
<rect x="838" y="1182" width="4" height="55" fill="#66B266"/>
<rect x="842" y="1160" width="4" height="77" fill="#FF6666"/>
<rect x="846" y="1156" width="4" height="81" fill="#FF6666"/>
<rect x="850" y="1152" width="4" height="85" fill="#FF6666"/>
<rect x="854" y="1147" width="4" height="90" fill="#66B266"/>
<rect x="867" y="1143" width="3" height="94" fill="#FF6666"/>
<rect x="871" y="1142" width="3" height="95" fill="#66B266"/>
<rect x="875" y="1147" width="3" height="90" fill="#FF6666"/>
<rect x="879" y="1144" width="3" height="93" fill="#66B266"/>
<rect x="883" y="1125" width="3" height="112" fill="#66B266"/>
<rect x="895" y="1150" width="3" height="87" fill="#FF6666"/>
<rect x="899" y="1160" width="3" height="77" fill="#66B266"/>
<rect x="903" y="1168" width="3" height="69" fill="#66B266"/>
<rect x="907" y="1153" width="3" height="84" fill="#66B266"/>
<rect x="911" y="1152" width="3" height="85" fill="#FF6666"/>
<rect x="923" y="1161" width="3" height="76" fill="#FF6666"/>
<rect x="927" y="1145" width="4" height="92" fill="#FF6666"/>
<rect x="931" y="1135" width="4" height="102" fill="#FF6666"/>
<rect x="935" y="1137" width="4" height="100" fill="#66B266"/>
<rect x="939" y="1132" width="4" height="105" fill="#66B266"/>
<rect x="952" y="1145" width="3" height="92" fill="#66B266"/>
<rect x="960" y="1145" width="3" height="92" fill="#FF6666"/>
<rect x="964" y="1149" width="3" height="88" fill="#66B266"/>
<rect x="968" y="1135" width="3" height="102" fill="#66B266"/>
<rect x="980" y="1163" width="3" height="74" fill="#66B266"/>
<rect x="984" y="1156" width="3" height="81" fill="#FF6666"/>
<rect x="988" y="1148" width="3" height="89" fill="#66B266"/>
<rect x="992" y="1143" width="3" height="94" fill="#FF6666"/>
<rect x="996" y="1113" width="3" height="124" fill="#FF6666"/>
<rect x="1008" y="1157" width="3" height="80" fill="#FF6666"/>
<rect x="1012" y="1127" width="3" height="110" fill="#FF6666"/>
<rect x="1016" y="1138" width="4" height="99" fill="#66B266"/>
<rect x="1020" y="1147" width="4" height="90" fill="#66B266"/>
<rect x="1024" y="1146" width="4" height="91" fill="#FF6666"/>
<rect x="1036" y="1137" width="4" height="100" fill="#FF6666"/>
<rect x="1041" y="1136" width="3" height="101" fill="#FF6666"/>
<rect x="1045" y="1110" width="3" height="127" fill="#FF6666"/>
<rect x="1049" y="1124" width="3" height="113" fill="#FF6666"/>
<rect x="1053" y="1129" width="3" height="108" fill="#66B266"/>
<rect x="1065" y="1142" width="3" height="95" fill="#FF6666"/>
<rect x="1069" y="1135" width="3" height="102" fill="#66B266"/>
<rect x="1073" y="1115" width="3" height="122" fill="#66B266"/>
<rect x="1077" y="1114" width="3" height="123" fill="#66B266"/>
<rect x="1081" y="1140" width="3" height="97" fill="#66B266"/>
<rect x="1093" y="1148" width="3" height="89" fill="#FF6666"/>
<rect x="1097" y="1150" width="3" height="87" fill="#FF6666"/>
<rect x="1101" y="1155" width="3" height="82" fill="#FF6666"/>
<rect x="1105" y="1143" width="3" height="94" fill="#FF6666"/>
<rect x="1109" y="1158" width="4" height="79" fill="#66B266"/>
<rect x="1121" y="1161" width="4" height="76" fill="#FF6666"/>
<rect x="1125" y="1155" width="4" height="82" fill="#FF6666"/>
<rect x="1130" y="1129" width="3" height="108" fill="#FF6666"/>
<rect x="1134" y="1134" width="3" height="103" fill="#66B266"/>
<rect x="1138" y="1118" width="3" height="119" fill="#66B266"/>
<rect x="1150" y="1118" width="3" height="119" fill="#66B266"/>
<rect x="1154" y="1131" width="3" height="106" fill="#66B266"/>
<rect x="1158" y="1128" width="3" height="109" fill="#FF6666"/>
<rect x="1162" y="1146" width="3" height="91" fill="#66B266"/>
<rect x="1166" y="1128" width="3" height="109" fill="#FF6666"/>
<rect x="1178" y="1096" width="3" height="141" fill="#FF6666"/>
<rect x="1182" y="1116" width="3" height="121" fill="#66B266"/>
<rect x="1186" y="1095" width="3" height="142" fill="#66B266"/>
<rect x="1190" y="1087" width="3" height="150" fill="#66B266"/>
<rect x="1194" y="1109" width="3" height="128" fill="#FF6666"/>
<rect x="1206" y="1092" width="4" height="145" fill="#FF6666"/>
<rect x="1210" y="1112" width="4" height="125" fill="#66B266"/>
<rect x="1214" y="1135" width="4" height="102" fill="#66B266"/>
<rect x="1219" y="1122" width="3" height="115" fill="#66B266"/>
<rect x="1223" y="1122" width="3" height="115" fill="#FF6666"/>
<rect x="1235" y="1128" width="3" height="109" fill="#FF6666"/>
<rect x="1239" y="1125" width="3" height="112" fill="#FF6666"/>
<rect x="1243" y="1127" width="3" height="110" fill="#FF6666"/>
<rect x="1247" y="1113" width="3" height="124" fill="#66B266"/>
<rect x="1251" y="1114" width="3" height="123" fill="#FF6666"/>
<rect x="1263" y="1126" width="3" height="111" fill="#FF6666"/>
<rect x="1267" y="1125" width="3" height="112" fill="#66B266"/>
<rect x="1271" y="1099" width="3" height="138" fill="#FF6666"/>
<rect x="1275" y="1079" width="3" height="158" fill="#66B266"/>
<rect x="1279" y="1093" width="3" height="144" fill="#FF6666"/>
<rect x="1291" y="1126" width="4" height="111" fill="#66B266"/>
<rect x="1295" y="1125" width="4" height="112" fill="#66B266"/>
<rect x="1299" y="1127" width="4" height="110" fill="#FF6666"/>
<rect x="1303" y="1117" width="4" height="120" fill="#66B266"/>
<rect x="1307" y="1113" width="4" height="124" fill="#66B266"/>
<rect x="1320" y="1119" width="3" height="118" fill="#FF6666"/>
<rect x="1324" y="1117" width="3" height="120" fill="#FF6666"/>
<rect x="1332" y="1152" width="3" height="85" fill="#FF6666"/>
<rect x="1336" y="1186" width="3" height="51" fill="#66B266"/>
<rect x="1348" y="1191" width="3" height="46" fill="#66B266"/>
<rect x="1356" y="1171" width="3" height="66" fill="#66B266"/>
<rect x="1360" y="1089" width="3" height="148" fill="#66B266"/>
<rect x="1364" y="1109" width="3" height="128" fill="#66B266"/>
<rect x="1376" y="1049" width="3" height="188" fill="#66B266"/>
<rect x="1380" y="1084" width="4" height="153" fill="#66B266"/>
<rect x="1384" y="1116" width="4" height="121" fill="#FF6666"/>
<rect x="1388" y="1132" width="4" height="105" fill="#66B266"/>
<rect x="1392" y="1117" width="4" height="120" fill="#66B266"/>
<rect x="1405" y="1146" width="3" height="91" fill="#FF6666"/>
<rect x="1409" y="1136" width="3" height="101" fill="#FF6666"/>
<rect x="1413" y="1150" width="3" height="87" fill="#66B266"/>
<rect x="1417" y="1144" width="3" height="93" fill="#FF6666"/>
<rect x="1421" y="1151" width="3" height="86" fill="#FF6666"/>
<rect x="1433" y="1135" width="3" height="102" fill="#FF6666"/>
<rect x="1437" y="1145" width="3" height="92" fill="#66B266"/>
<rect x="1445" y="1102" width="3" height="135" fill="#66B266"/>
<rect x="1449" y="1139" width="3" height="98" fill="#66B266"/>
<rect x="1461" y="1150" width="3" height="87" fill="#FF6666"/>
<rect x="1465" y="1146" width="3" height="91" fill="#66B266"/>
<rect x="1469" y="1146" width="4" height="91" fill="#66B266"/>
<rect x="1473" y="1148" width="4" height="89" fill="#FF6666"/>
<rect x="1477" y="1157" width="4" height="80" fill="#66B266"/>
<rect x="1489" y="1155" width="4" height="82" fill="#FF6666"/>
<rect x="1494" y="1157" width="3" height="80" fill="#FF6666"/>
<rect x="1498" y="1147" width="3" height="90" fill="#FF6666"/>
<rect x="1502" y="1134" width="3" height="103" fill="#FF6666"/>
<rect x="1506" y="1148" width="3" height="89" fill="#66B266"/>
<rect x="1518" y="1154" width="3" height="83" fill="#66B266"/>
<rect x="1522" y="1145" width="3" height="92" fill="#66B266"/>
<rect x="1526" y="1157" width="3" height="80" fill="#66B266"/>
<rect x="1530" y="1144" width="3" height="93" fill="#FF6666"/>
<rect x="1534" y="1128" width="3" height="109" fill="#66B266"/>
<rect x="1546" y="1121" width="3" height="116" fill="#FF6666"/>
<rect x="1550" y="1149" width="3" height="88" fill="#FF6666"/>
<rect x="1554" y="1158" width="3" height="79" fill="#FF6666"/>
<rect x="1558" y="1159" width="3" height="78" fill="#FF6666"/>
<rect x="1562" y="1182" width="4" height="55" fill="#66B266"/>
<rect x="1574" y="1161" width="4" height="76" fill="#FF6666"/>
<rect x="1578" y="1169" width="4" height="68" fill="#FF6666"/>
<rect x="1583" y="1175" width="3" height="62" fill="#66B266"/>
<rect x="1587" y="1169" width="3" height="68" fill="#FF6666"/>
<rect x="1591" y="1157" width="3" height="80" fill="#FF6666"/>
<rect x="1603" y="1159" width="3" height="78" fill="#66B266"/>
<rect x="1607" y="1157" width="3" height="80" fill="#66B266"/>
<rect x="1611" y="1163" width="3" height="74" fill="#FF6666"/>
<rect x="1615" y="1168" width="3" height="69" fill="#66B266"/>
<rect x="1619" y="1145" width="3" height="92" fill="#FF6666"/>
<rect x="1631" y="1159" width="3" height="78" fill="#66B266"/>
<rect x="1635" y="1160" width="3" height="77" fill="#66B266"/>
<rect x="1639" y="1167" width="3" height="70" fill="#FF6666"/>
<rect x="1643" y="1175" width="3" height="62" fill="#FF6666"/>
<rect x="1647" y="1153" width="3" height="84" fill="#FF6666"/>
<rect x="1659" y="1173" width="4" height="64" fill="#FF6666"/>
<rect x="1663" y="1177" width="4" height="60" fill="#66B266"/>
</g>
<line x1="225" x2="225" y1="1238" y2="987" stroke="#b0b0b0" stroke-opacity="0.3" stroke-width="1.67" stroke-dasharray="6.1667 2.6667"/>
<line x1="464" x2="464" y1="1238" y2="987" stroke="#b0b0b0" stroke-opacity="0.3" stroke-width="1.67" stroke-dasharray="6.1667 2.6667"/>
<line x1="710" x2="710" y1="1238" y2="987" stroke="#b0b0b0" stroke-opacity="0.3" stroke-width="1.67" stroke-dasharray="6.1667 2.6667"/>
<line x1="957" x2="957" y1="1238" y2="987" stroke="#b0b0b0" stroke-opacity="0.3" stroke-width="1.67" stroke-dasharray="6.1667 2.6667"/>
<line x1="1208" x2="1208" y1="1238" y2="987" stroke="#b0b0b0" stroke-opacity="0.3" stroke-width="1.67" stroke-dasharray="6.1667 2.6667"/>
<line x1="1455" x2="1455" y1="1238" y2="987" stroke="#b0b0b0" stroke-opacity="0.3" stroke-width="1.67" stroke-dasharray="6.1667 2.6667"/>
<line x1="1701" x2="1701" y1="1238" y2="987" stroke="#b0b0b0" stroke-opacity="0.3" stroke-width="1.67" stroke-dasharray="6.1667 2.6667"/>
<line x1="113" x2="1740.8" y1="1161" y2="1161" stroke="#b0b0b0" stroke-opacity="0.3" stroke-width="1.67" stroke-dasharray="6.1667 2.6667"/>
<line x1="113" x2="1740.8" y1="1084" y2="1084" stroke="#b0b0b0" stroke-opacity="0.3" stroke-width="1.67" stroke-dasharray="6.1667 2.6667"/>
<line x1="113" x2="1740.8" y1="1007" y2="1007" stroke="#b0b0b0" stroke-opacity="0.3" stroke-width="1.67" stroke-dasharray="6.1667 2.6667"/>
<rect x="112.1" y="986.2" width="1.8" height="252.6" fill="#000"/>
<rect x="112.2" y="1237.1" width="1629.6" height="1.8" fill="#000"/>
<rect x="224.1" y="1238" width="1.8" height="7" fill="#000"/>
<g transform="translate(222.4,1285.8) rotate(-45)"><text transform="translate(-36.5,7.2) scale(0.835,1)" x="0.12 12.59 25.07 37.54 50.77 62.49 74.96" y="0.00 0.00 0.00 0.00 -1.30 0.00 0.00" font-size="22" >2025<tspan textLength="10.7" lengthAdjust="spacingAndGlyphs">-</tspan>01</text></g>
<rect x="463.1" y="1238" width="1.8" height="7" fill="#000"/>
<g transform="translate(461.4,1285.8) rotate(-45)"><text transform="translate(-36.5,7.2) scale(0.835,1)" x="0.12 12.59 25.07 37.54 50.77 62.49 74.96" y="0.00 0.00 0.00 0.00 -1.30 0.00 0.00" font-size="22" >2025<tspan textLength="10.7" lengthAdjust="spacingAndGlyphs">-</tspan>03</text></g>
<rect x="709.1" y="1238" width="1.8" height="7" fill="#000"/>
<g transform="translate(707.4,1285.8) rotate(-45)"><text transform="translate(-36.5,7.2) scale(0.835,1)" x="0.12 12.59 25.07 37.54 50.77 62.49 74.96" y="0.00 0.00 0.00 0.00 -1.30 0.00 0.00" font-size="22" >2025<tspan textLength="10.7" lengthAdjust="spacingAndGlyphs">-</tspan>05</text></g>
<rect x="956.1" y="1238" width="1.8" height="7" fill="#000"/>
<g transform="translate(954.4,1285.8) rotate(-45)"><text transform="translate(-36.5,7.2) scale(0.835,1)" x="0.12 12.59 25.07 37.54 50.77 62.49 74.96" y="0.00 0.00 0.00 0.00 -1.30 0.00 0.00" font-size="22" >2025<tspan textLength="10.7" lengthAdjust="spacingAndGlyphs">-</tspan>07</text></g>
<rect x="1207.1" y="1238" width="1.8" height="7" fill="#000"/>
<g transform="translate(1205.4,1285.8) rotate(-45)"><text transform="translate(-36.5,7.2) scale(0.835,1)" x="0.12 12.59 25.07 37.54 50.77 62.49 74.96" y="0.00 0.00 0.00 0.00 -1.30 0.00 0.00" font-size="22" >2025<tspan textLength="10.7" lengthAdjust="spacingAndGlyphs">-</tspan>09</text></g>
<rect x="1454.1" y="1238" width="1.8" height="7" fill="#000"/>
<g transform="translate(1452.4,1285.8) rotate(-45)"><text transform="translate(-36.5,7.2) scale(0.835,1)" x="0.12 12.59 25.07 37.54 50.77 62.49 74.96" y="0.00 0.00 0.00 0.00 -1.30 0.00 0.00" font-size="22" >2025<tspan textLength="10.7" lengthAdjust="spacingAndGlyphs">-</tspan>11</text></g>
<rect x="1700.1" y="1238" width="1.8" height="7" fill="#000"/>
<g transform="translate(1698.4,1285.8) rotate(-45)"><text transform="translate(-36.5,7.2) scale(0.835,1)" x="0.12 12.59 25.07 37.54 50.77 62.49 74.96" y="0.00 0.00 0.00 0.00 -1.30 0.00 0.00" font-size="22" >2026<tspan textLength="10.7" lengthAdjust="spacingAndGlyphs">-</tspan>01</text></g>
<rect x="106" y="1237.1" width="7" height="1.8" fill="#000"/>
<text transform="translate(88.5,1245.8) scale(0.835,1)" x="0.12" y="0.00" font-size="22" >0</text>
<rect x="106" y="1160.1" width="7" height="1.8" fill="#000"/>
<text transform="translate(88.5,1168.8) scale(0.835,1)" x="0.12" y="0.00" font-size="22" >2</text>
<rect x="106" y="1083.1" width="7" height="1.8" fill="#000"/>
<text transform="translate(88.5,1091.8) scale(0.835,1)" x="0.12" y="0.00" font-size="22" >4</text>
<rect x="106" y="1006.1" width="7" height="1.8" fill="#000"/>
<text transform="translate(88.5,1014.8) scale(0.835,1)" x="0.12" y="0.00" font-size="22" >6</text>
<text transform="translate(113.6,981.2) scale(0.835,1)" x="-0.07 12.03 24.12 36.22" y="0.00 0.00 0.00 0.00" font-size="22" >1e11</text>
<text class="cj" transform="translate(69.1,1114.3) rotate(-90)" font-size="20.83" text-anchor="middle" y="7.5">成交量</text>
</svg></body></html>
